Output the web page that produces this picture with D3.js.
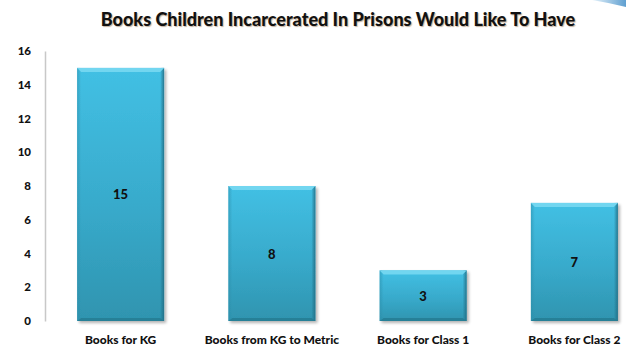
<!DOCTYPE html>
<html>
<head>
<meta charset="utf-8">
<script src="https://cdn.jsdelivr.net/npm/d3@7"></script>
<style>
  html, body { margin: 0; padding: 0; background: #fff; }
  svg { display: block; }
</style>
</head>
<body>
<svg id="chart" width="626" height="348"></svg>
<script>
const categories = ["Books for KG", "Books from KG to Metric", "Books for Class 1", "Books for Class 2"];
const values = [15, 8, 3, 7];
const yTicks = [0, 2, 4, 6, 8, 10, 12, 14, 16];
const title = "Books Children Incarcerated In Prisons Would Like To Have";

const svg = d3.select("#chart");
const font = "Lato, 'Open Sans', sans-serif";

const x = d3.scaleBand().domain(categories).range([45, 650]).paddingInner(0.425).paddingOuter(0.2125);
const y = d3.scaleLinear().domain([0, 16]).range([321, 51]);

const defs = svg.append("defs");
const body = defs.append("linearGradient").attr("id", "barBody").attr("x1", 0).attr("y1", 0).attr("x2", 0).attr("y2", 1);
body.append("stop").attr("offset", "0%").attr("stop-color", "#42C0E4");
body.append("stop").attr("offset", "55%").attr("stop-color", "#38AACB");
body.append("stop").attr("offset", "100%").attr("stop-color", "#2F94AF");

const sideL = defs.append("linearGradient").attr("id", "barSideL").attr("x1", 0).attr("y1", 0).attr("x2", 1).attr("y2", 0);
sideL.append("stop").attr("offset", "0%").attr("stop-color", "#2C8EAA").attr("stop-opacity", 0.55);
sideL.append("stop").attr("offset", "100%").attr("stop-color", "#2C8EAA").attr("stop-opacity", 0);

const sideR = defs.append("linearGradient").attr("id", "barSideR").attr("x1", 0).attr("y1", 0).attr("x2", 1).attr("y2", 0);
sideR.append("stop").attr("offset", "0%").attr("stop-color", "#226F86").attr("stop-opacity", 0);
sideR.append("stop").attr("offset", "100%").attr("stop-color", "#226F86").attr("stop-opacity", 0.9);

const shadow = defs.append("filter").attr("id", "shadow").attr("x", "-10%").attr("y", "-10%").attr("width", "130%").attr("height", "130%");
shadow.append("feGaussianBlur").attr("in", "SourceAlpha").attr("stdDeviation", 1.5);
shadow.append("feOffset").attr("dx", 2).attr("dy", 2).attr("result", "b");
shadow.append("feComponentTransfer").append("feFuncA").attr("type", "linear").attr("slope", 0.3);
const merge = shadow.append("feMerge");
merge.append("feMergeNode");
merge.append("feMergeNode").attr("in", "SourceGraphic");

const swoosh = defs.append("linearGradient").attr("id", "swoosh").attr("x1", 0).attr("y1", 0).attr("x2", 1).attr("y2", 0);
swoosh.append("stop").attr("offset", "0%").attr("stop-color", "#E6F3FB");
swoosh.append("stop").attr("offset", "100%").attr("stop-color", "#5F9FD0");

// corner ornament
svg.append("path")
  .attr("d", "M592,0 L626,0 L626,7 Q610,3 592,0 Z")
  .attr("fill", "url(#swoosh)");

// title
svg.append("text")
  .attr("x", 338).attr("y", 26)
  .attr("text-anchor", "middle")
  .attr("font-family", font).attr("font-weight", 900).attr("font-size", 18)
  .attr("fill", "#111")
  .style("text-shadow", "1px 1px 1px rgba(120,80,40,0.45)")
  .text(title);

// y axis
const yAxis = d3.axisLeft(y).tickValues(yTicks).tickSize(0).tickPadding(14);
const ga = svg.append("g").attr("transform", "translate(45,0)").call(yAxis);
ga.select(".domain").attr("stroke", "#C8C8C8").attr("stroke-width", 1.5);
ga.selectAll("text").attr("font-family", font).attr("font-weight", 900).attr("font-size", 11.5).attr("fill", "#111");

// bars
const bars = svg.append("g").selectAll("g").data(values).join("g")
  .attr("filter", "url(#shadow)");
const bev = 4;
bars.each(function(v, i) {
  const g = d3.select(this);
  const x0 = x(categories[i]), bw = x.bandwidth();
  const y0 = y(v), y1 = y(0);
  g.append("rect").attr("x", x0).attr("y", y0).attr("width", bw).attr("height", y1 - y0).attr("fill", "url(#barBody)");
  // left edge shading
  g.append("rect").attr("x", x0).attr("y", y0).attr("width", bev).attr("height", y1 - y0).attr("fill", "url(#barSideL)");
  // right edge shading
  g.append("rect").attr("x", x0 + bw - bev).attr("y", y0).attr("width", bev).attr("height", y1 - y0).attr("fill", "url(#barSideR)");
  // bottom edge
  g.append("path")
    .attr("d", `M${x0},${y1} L${x0 + bev},${y1 - 3} L${x0 + bw - bev},${y1 - 3} L${x0 + bw},${y1} Z`)
    .attr("fill", "#257A91").attr("opacity", 0.8);
  // top bevel
  g.append("path")
    .attr("d", `M${x0},${y0} L${x0 + bw},${y0} L${x0 + bw - bev},${y0 + bev} L${x0 + bev},${y0 + bev} Z`)
    .attr("fill", "#72D6F0");
});

// value labels
svg.append("g").selectAll("text").data(values).join("text")
  .attr("x", (d, i) => x(categories[i]) + x.bandwidth() / 2)
  .attr("y", d => (y(d) + y(0)) / 2 + 5)
  .attr("text-anchor", "middle")
  .attr("font-family", font).attr("font-weight", 900).attr("font-size", 13)
  .attr("fill", "#111")
  .text(d => d);

// category labels
svg.append("g").selectAll("text").data(categories).join("text")
  .attr("x", d => x(d) + x.bandwidth() / 2)
  .attr("y", 344)
  .attr("text-anchor", "middle")
  .attr("font-family", font).attr("font-weight", 900).attr("font-size", 12)
  .attr("fill", "#111")
  .text(d => d);
</script>
</body>
</html>
